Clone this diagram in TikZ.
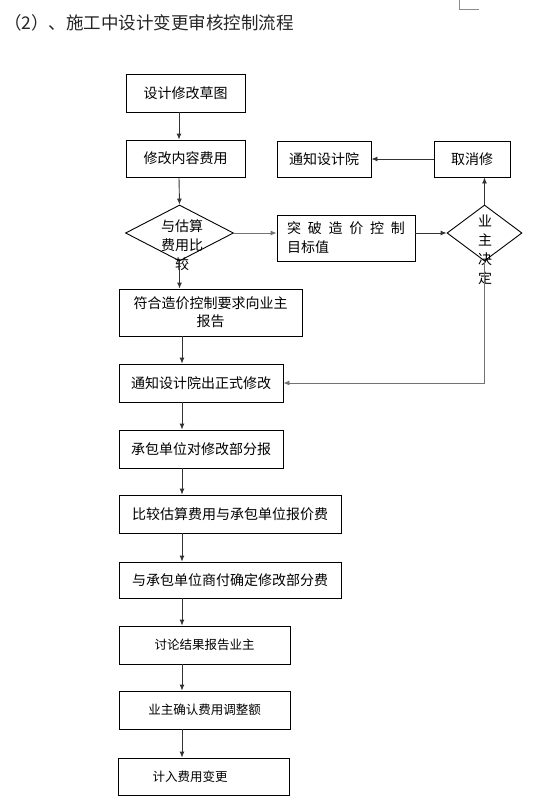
\documentclass[tikz,border=0pt]{standalone}
\usepackage{fontspec}
\setmainfont{Liberation Serif}
\newfontfamily\cjk{Noto Sans CJK SC}
\usetikzlibrary{arrows.meta,shapes.geometric}
\tikzset{
  box/.style={draw=black,line width=0.9pt,inner sep=0pt,align=center,
    font=\cjk\fontsize{14}{18}\selectfont},
  sbox/.style={box,font=\cjk\fontsize{12.5}{16}\selectfont},
  dia/.style={draw=black,line width=0.9pt,diamond,inner sep=0pt},
  txt/.style={inner sep=0pt,align=center,font=\cjk\fontsize{14}{19}\selectfont},
  arr/.style={draw=black!80,line width=0.9pt,-{Latex[length=6pt,width=5pt]}},
  garr/.style={arr,draw=black!55}
}
\begin{document}
\begin{tikzpicture}[x=1pt,y=-1pt]
\useasboundingbox[fill=white] (0,0) rectangle (543,803);
% corner mark
\draw[black!45,line width=0.8pt] (459,0) -- (459,9) -- (479,9);
% title
\node[anchor=west,inner sep=0pt,text=black!85,font=\cjk\fontsize{17.5}{20}\selectfont] (title) at (4,23) {（2）、施工中设计变更审核控制流程};

\coordinate (ax) at (182,0);
\coordinate (tx) at (179,0);

\node[box,minimum width=119pt,minimum height=38pt] (b1) at (185.5,93) {设计修改草图};
\node[box,minimum width=119pt,minimum height=37pt] (b2) at (185.5,158.5) {修改内容费用};
\node[dia,minimum width=108pt,minimum height=56pt] (d1) at (179.5,233) {};
\node[txt] (d1t) at (182,245) {与估算\\费用比\\较};
\node[box,minimum width=94pt,minimum height=36pt] (n1) at (324,159) {通知设计院};
\node[box,minimum width=76pt,minimum height=36pt] (c1) at (472,159) {取消修};
\node[box,minimum width=138pt,minimum height=46pt] (t1) at (346,238)
  {\parbox{118pt}{\baselineskip=19pt 突\hfill 破\hfill 造\hfill 价\hfill 控\hfill 制\\目标值}};
\node[dia,minimum width=75pt,minimum height=56pt] (d2) at (484.5,233) {};
\node[txt] (d2t) at (485,250) {业\\主\\决\\定};

\node[box,minimum width=183pt,minimum height=47pt] (b3) at (210.5,312.5) {符合造价控制要求向业主\\报告};
\node[box,minimum width=164pt,minimum height=38pt] (b4) at (201,383) {通知设计院出正式修改};
\node[box,minimum width=164pt,minimum height=38pt] (b5) at (201,449) {承包单位对修改部分报};
\node[box,minimum width=222pt,minimum height=38pt] (b6) at (230,514) {比较估算费用与承包单位报价费};
\node[box,minimum width=222pt,minimum height=36pt] (b7) at (230,580) {与承包单位商付确定修改部分费};
\node[sbox,minimum width=171pt,minimum height=38pt] (b8) at (204.5,645) {讨论结果报告业主};
\node[sbox,minimum width=171pt,minimum height=38pt] (b9) at (204.5,710) {业主确认费用调整额};
\node[sbox,minimum width=171pt,minimum height=37pt] (b10) at (203.5,776.5) {};
\node[inner sep=0pt,font=\cjk\fontsize{12.5}{16}\selectfont] (b10t) at (190,776.5) {计入费用变更};

% connectors
\draw[arr] (b1.south -| tx) -- (b2.north -| tx);
\draw[arr] (b2.south -| tx) -- (d1.north);
\draw[arr] (d1.south) -- (d1.south |- b3.north);
\draw[garr] (d1.east) -- (d1.east -| t1.west);
\draw[arr] (t1.east |- d2.west) -- (d2.west);
\draw[arr] (d2.north) -- (d2.north |- c1.south);
\draw[arr] (c1.west) -- (n1.east);
\draw[garr] (d2.south) |- (b4.east);
\draw[arr] (b3.south -| ax) -- (b4.north -| ax);
\draw[arr] (b4.south -| ax) -- (b5.north -| ax);
\draw[arr] (b5.south -| ax) -- (b6.north -| ax);
\draw[arr] (b6.south -| ax) -- (b7.north -| ax);
\draw[arr] (b7.south -| ax) -- (b8.north -| ax);
\draw[arr] (b8.south -| ax) -- (b9.north -| ax);
\draw[arr] (b9.south -| ax) -- (b10.north -| ax);
\end{tikzpicture}
\end{document}
